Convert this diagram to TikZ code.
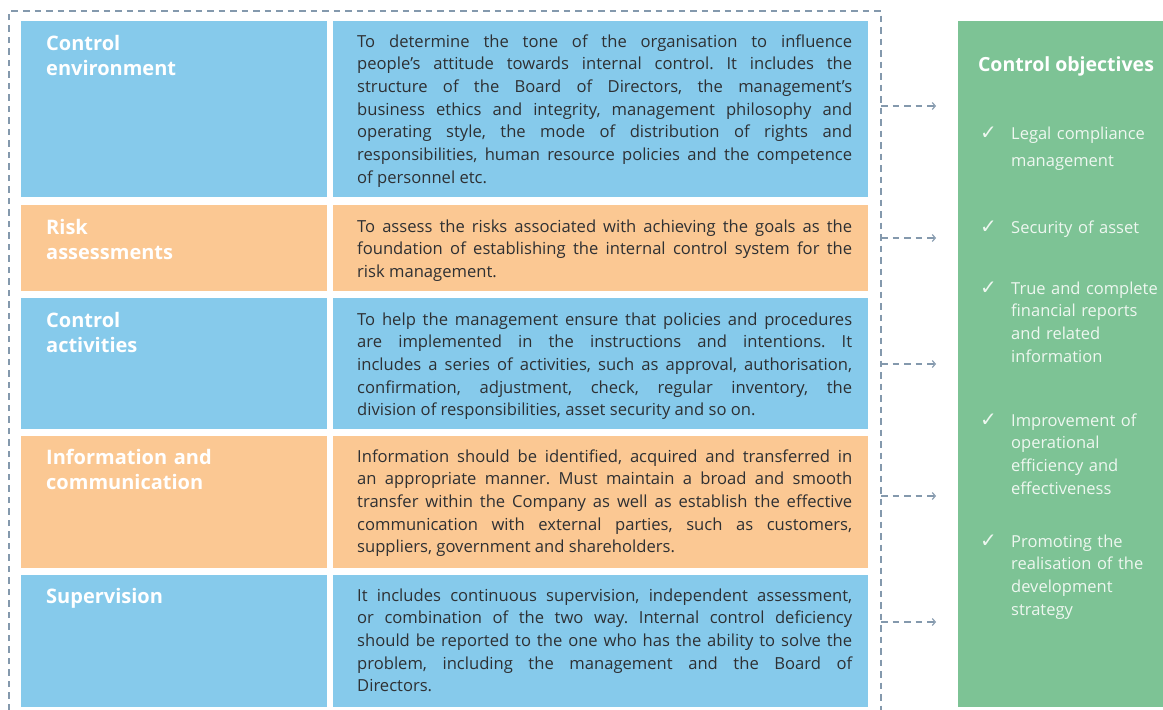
\documentclass[tikz,border=0pt]{standalone}
\usepackage{fontspec}
\setmainfont{Open Sans}
\newfontfamily\checkfont{DejaVu Sans}
\usetikzlibrary{arrows.meta}
\definecolor{boxblue}{HTML}{86CAEB}
\definecolor{boxorange}{HTML}{FBC893}
\definecolor{panelgreen}{HTML}{7DC395}
\definecolor{guide}{HTML}{8499AD}
\definecolor{bodyink}{HTML}{2E3033}
\definecolor{paneltext}{HTML}{EEF7F0}
\frenchspacing
\begin{document}
\begin{tikzpicture}[x=1pt,y=-1pt,
  heading/.style={anchor=base west, inner sep=0, text=white, text width=270pt, align=left,
    font=\fontsize{20}{25.5}\selectfont\bfseries},
  body/.style={anchor=base west, inner sep=0, text=bodyink, text width=495pt, align=justify,
    font=\fontsize{16.6}{22.7}\selectfont,
    execute at begin node={\frenchspacing\tolerance=10000\hyphenpenalty=10000}},
  guideline/.style={draw=guide, line width=1.2pt, dash pattern=on 6.5pt off 5pt},
  link/.style={guideline, -{Straight Barb[length=3pt,width=7pt,line width=1.1pt]}},
  objtitle/.style={anchor=base, inner sep=0, text=white, font=\fontsize{19.5}{24}\selectfont\bfseries},
  tick/.style={anchor=base west, inner sep=0, text=paneltext, font=\checkfont\fontsize{20}{24}\selectfont},
  objitem/.style={anchor=base west, inner sep=0, text=paneltext, text width=152pt, align=left,
    font=\fontsize{16.5}{22.7}\selectfont},
]
\useasboundingbox (0,0) rectangle (1163,710);

% frame around the five components
\draw[guideline] (9,710) -- (9,11) -- (881,11) -- (881,710);

% component rows: title cell and description cell
\fill[boxblue]   (21,21)  rectangle (327,197);  \fill[boxblue]   (333,21)  rectangle (868,197);
\fill[boxorange] (21,205) rectangle (327,291);  \fill[boxorange] (333,205) rectangle (868,291);
\fill[boxblue]   (21,298) rectangle (327,429);  \fill[boxblue]   (333,298) rectangle (868,429);
\fill[boxorange] (21,436) rectangle (327,568);  \fill[boxorange] (333,436) rectangle (868,568);
\fill[boxblue]   (21,575) rectangle (327,707);  \fill[boxblue]   (333,575) rectangle (868,707);

\node[heading] (h1) at (46,50)  {Control\\environment};
\node[heading] (h2) at (46,234) {Risk\\assessments};
\node[heading] (h3) at (46,327) {Control\\activities};
\node[heading] (h4) at (46,464) {Information and\\communication};
\node[heading] (h5) at (46,603) {Supervision};

\node[body] (d1) at (357,47) {To determine the tone of the organisation to influence\linebreak
people’s attitude towards internal control. It includes the\linebreak
structure of the Board of Directors, the management’s\linebreak
business ethics and integrity, management philosophy and\linebreak
operating style, the mode of distribution of rights and\linebreak
responsibilities, human resource policies and the competence\linebreak
of personnel etc.};
\node[body] (d2) at (357,232) {To assess the risks associated with achieving the goals as the\linebreak
foundation of establishing the internal control system for the\linebreak
risk management.};
\node[body] (d3) at (357,325) {To help the management ensure that policies and procedures\linebreak
are implemented in the instructions and intentions. It\linebreak
includes a series of activities, such as approval, authorisation,\linebreak
confirmation, adjustment, check, regular inventory, the\linebreak
division of responsibilities, asset security and so on.};
\node[body] (d4) at (357,462) {Information should be identified, acquired and transferred in\linebreak
an appropriate manner. Must maintain a broad and smooth\linebreak
transfer within the Company as well as establish the effective\linebreak
communication with external parties, such as customers,\linebreak
suppliers, government and shareholders.};
\node[body] (d5) at (357,601) {It includes continuous supervision, independent assessment,\linebreak
or combination of the two way. Internal control deficiency\linebreak
should be reported to the one who has the ability to solve the\linebreak
problem, including the management and the Board of\linebreak
Directors.};

% links from the frame to the objectives
\foreach \i/\y in {1/106, 2/238, 3/364, 4/496, 5/622} {
  \coordinate (g\i) at (881,\y);
  \coordinate (t\i) at (936,\y);
  \draw[link] (g\i) -- (t\i);
}

% objectives panel
\fill[panelgreen] (958,21) rectangle (1163,707);
\node[objtitle] (ot) at (1066,71) {Control objectives};

\node[tick] (c1) at (980,139) {✓};
\node[objitem] (o1) at (1011,139) {Legal compliance\\[4.6pt]management};
\node[tick] (c2) at (980,233) {✓};
\node[objitem] (o2) at (1011,233) {Security of asset};
\node[tick] (c3) at (980,294) {✓};
\node[objitem] (o3) at (1011,294) {True and complete\\financial reports\\and related\\information};
\node[tick] (c4) at (980,426) {✓};
\node[objitem] (o4) at (1011,426) {Improvement of\\operational\\efficiency and\\effectiveness};
\node[tick] (c5) at (980,547) {✓};
\node[objitem] (o5) at (1011,547) {Promoting the\\realisation of the\\development\\strategy};
\end{tikzpicture}
\end{document}
